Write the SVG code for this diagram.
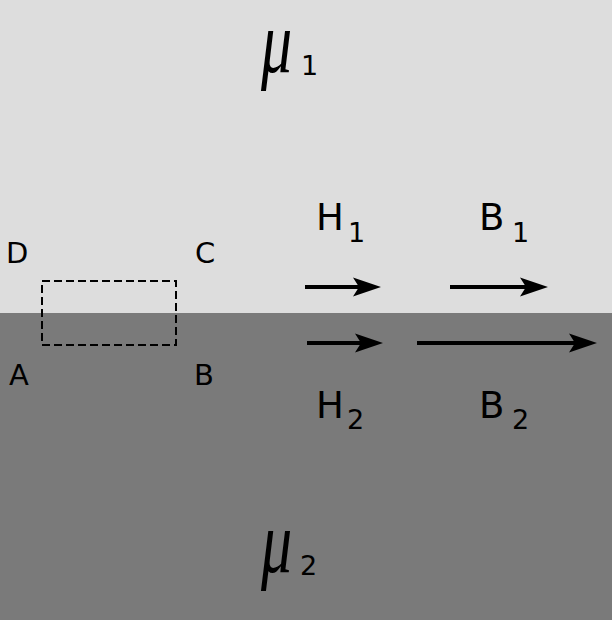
<svg xmlns="http://www.w3.org/2000/svg" width="612" height="620" viewBox="0 0 612 620">
<style>
.lbl{font-family:"DejaVu Sans","Liberation Sans",sans-serif;fill:#000}
.mu{font-family:"Liberation Serif","Times New Roman",serif;font-style:italic;font-size:62px;fill:#000}
.ar{stroke:#000;stroke-width:3.8;fill:none}
.hd{fill:#000}
</style>
<defs>
<path id="head" d="M0,0 L-28,-9.5 L-22,0 L-28,9.5 Z"/>
</defs>
<g id="region1"><rect x="0" y="0" width="612" height="313" fill="#dddddd"/></g>
<g id="region2"><rect x="0" y="313" width="612" height="307" fill="#7a7a7a"/></g>
<g id="mu1"><text class="mu" x="0" y="0" transform="translate(261,72) scale(1,1.45)">μ</text><text class="lbl" x="301" y="75" font-size="27">1</text></g>
<g id="mu2"><text class="mu" x="0" y="0" transform="translate(261,572) scale(1,1.45)">μ</text><text class="lbl" x="300" y="575" font-size="27">2</text></g>
<g id="loop">
<rect x="42" y="281" width="134" height="64" fill="none" stroke="#000" stroke-width="2" stroke-dasharray="8,4"/>
<text class="lbl" x="6" y="263" font-size="29">D</text>
<text class="lbl" x="195" y="263" font-size="29">C</text>
<text class="lbl" x="9" y="385" font-size="29">A</text>
<text class="lbl" x="194" y="385" font-size="29">B</text>
</g>
<g id="H1"><text class="lbl" x="316" y="230" font-size="37">H</text><text class="lbl" x="348" y="242" font-size="27">1</text></g>
<g id="B1"><text class="lbl" x="479" y="230" font-size="37">B</text><text class="lbl" x="512" y="242" font-size="27">1</text></g>
<g id="H2"><text class="lbl" x="316" y="418" font-size="37">H</text><text class="lbl" x="347" y="429" font-size="27">2</text></g>
<g id="B2"><text class="lbl" x="479" y="418" font-size="37">B</text><text class="lbl" x="512" y="429" font-size="27">2</text></g>
<g id="connectors">
<line class="ar" x1="305" y1="287" x2="362" y2="287"/><use href="#head" x="381" y="287" class="hd"/>
<line class="ar" x1="450" y1="287" x2="529" y2="287"/><use href="#head" x="548" y="287" class="hd"/>
<line class="ar" x1="307" y1="343" x2="364" y2="343"/><use href="#head" x="383" y="343" class="hd"/>
<line class="ar" x1="417" y1="343" x2="578" y2="343"/><use href="#head" x="597" y="343" class="hd"/>
</g>
</svg>
